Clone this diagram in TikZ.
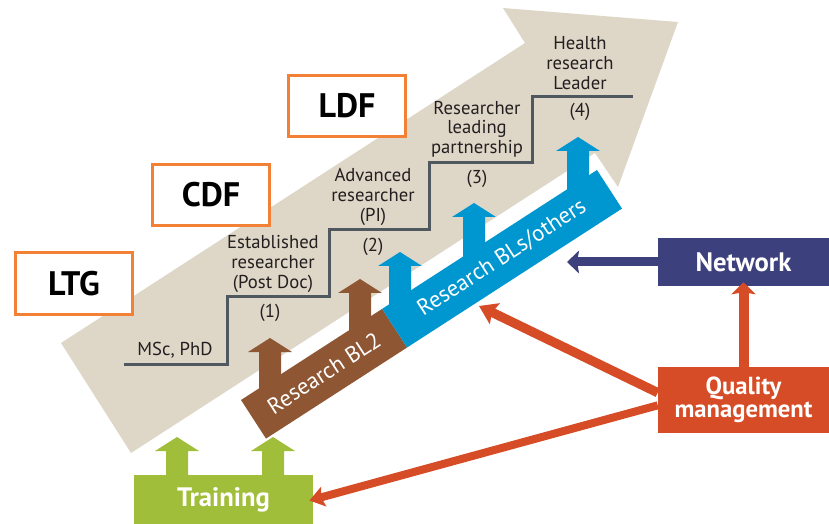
\documentclass[tikz,border=0pt]{standalone}
\usepackage{fontspec}
\setmainfont{PT Sans}
\usetikzlibrary{arrows.meta}
\definecolor{beige}{RGB}{222,215,200}
\definecolor{boxorange}{RGB}{242,129,53}
\definecolor{stairgray}{RGB}{78,88,94}
\definecolor{ribbrown}{RGB}{143,86,52}
\definecolor{ribblue}{RGB}{0,150,208}
\definecolor{navy}{RGB}{60,64,125}
\definecolor{qmred}{RGB}{214,76,38}
\definecolor{trgreen}{RGB}{161,190,58}
\definecolor{txt}{RGB}{35,31,32}
\tikzset{
  lbl/.style={text=txt, font=\fontsize{14}{14.8}\selectfont, align=center, inner sep=0pt},
  fbox/.style={draw=boxorange, line width=2.25pt, fill=white, minimum width=88pt, minimum height=46pt, font=\fontsize{25.5}{28}\selectfont\bfseries, text=black, inner sep=0pt},
  ribtext/.style={text=white, font=\fontsize{17}{20}\selectfont, rotate=33, inner sep=0pt},
  solidbox/.style={text=white, font=\fontsize{20}{18}\selectfont\bfseries, align=center, inner sep=0pt},
  stair/.style={draw=stairgray, line width=2.25pt},
}
\newcommand\myuparrow[4]{\fill[#4] ({#1-11},{#3}) -- ({#1-11},{#2+14}) -- ({#1-22},{#2+14}) -- ({#1},{#2}) -- ({#1+22},{#2+14}) -- ({#1+11},{#2+14}) -- ({#1+11},{#3}) -- cycle;}
\begin{document}
\begin{tikzpicture}[x=0.75pt,y=-0.75pt]
\useasboundingbox (0,0) rectangle (829,524);
% big beige arrow
\fill[beige] (61,343) -- (525,43) -- (503,8) -- (678,22) -- (618,187) -- (595,153) -- (131,453) -- cycle;
% staircase
\draw[stair] (124,364) -- (227,364) -- (227,297) -- (329,297) -- (329,230) -- (429,230) -- (429,163) -- (532,163) -- (532,97) -- (633,97);
% step labels
\node[lbl] (msc) at (175,350) {MSc, PhD};
\node[lbl] (n1) at (270,313) {(1)};
\node[lbl] (est) at (273,264) {Established\\researcher\\(Post Doc)};
\node[lbl] (n2) at (373,247) {(2)};
\node[lbl] (adv) at (373,197) {Advanced\\researcher\\(PI)};
\node[lbl] (n3) at (477,179) {(3)};
\node[lbl] (lead) at (477,129) {Researcher\\leading\\partnership};
\node[lbl] (n4) at (580,112) {(4)};
\node[lbl] (hrl) at (580,63) {Health\\research\\Leader};
% orange boxes
\node[fbox] (ltg) at (74,283.5) {LTG};
\node[fbox] (cdf) at (211,195) {CDF};
\node[fbox] (ldf) at (347,106) {LDF};
% up arrows from ribbon
\myuparrow{270}{338}{400}{ribbrown}
\myuparrow{360}{279}{343}{ribbrown}
\myuparrow{400}{252}{317}{ribblue}
\myuparrow{474}{203}{270}{ribblue}
\myuparrow{578}{137}{202}{ribblue}
% ribbon
\fill[ribbrown] (241,400) -- (382.1,308.9) -- (407.1,347.5) -- (266,438.6) -- cycle;
\fill[ribblue] (382.1,308.9) -- (597,170) -- (622,208.6) -- (407.1,347.5) -- cycle;
\node[ribtext] (bl2) at (324,373) {Research BL2};
\node[ribtext] (bls) at (502,258) {Research BLs/others};
% green arrows
\myuparrow{177}{437}{480}{trgreen}
\myuparrow{273}{437}{480}{trgreen}
% solid boxes
\node[solidbox, fill=trgreen, minimum width=134.25pt, minimum height=36.75pt] (train) at (223.5,499.5) {Training};
\node[solidbox, fill=navy, minimum width=128.25pt, minimum height=36pt] (net) at (743.5,262) {Network};
\node[solidbox, fill=qmred, minimum width=128.25pt, minimum height=49.5pt, font=\fontsize{18.5}{17.5}\selectfont\bfseries] (qm) at (743.5,400) {Quality\\management};
% connectors
\coordinate (netTip) at (567,262);
\coordinate (ribTip) at (479,306);
\draw[navy, line width=6.75pt, -{Stealth[length=9pt, width=17pt, inset=1.5pt]}] (net.west) -- (netTip);
\draw[qmred, line width=7.5pt, -{Stealth[length=9pt, width=18pt, inset=1.5pt]}, shorten >=-3pt] (qm.north) -- (net.south);
\draw[qmred, line width=7pt, -{Stealth[length=13pt, width=17pt, inset=2pt]}] ([yshift=5.5pt]qm.west) -- (ribTip);
\draw[qmred, line width=6pt, -{Stealth[length=11pt, width=15pt, inset=2pt]}, shorten >=-3pt] ([yshift=-4pt]qm.west) -- (train.east);
\end{tikzpicture}
\end{document}
